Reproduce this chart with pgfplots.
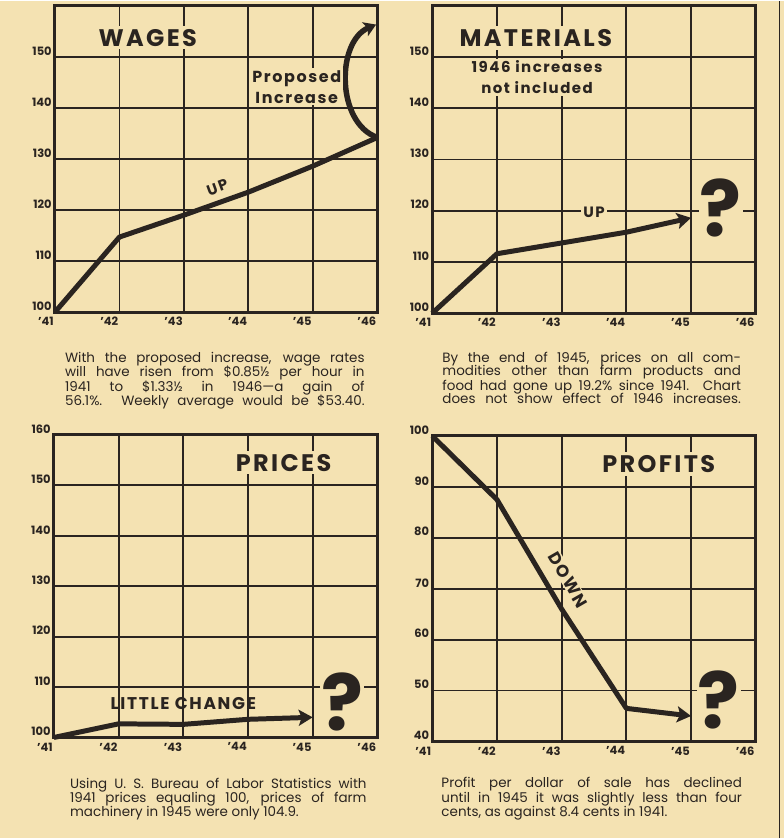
\documentclass[border=0pt]{standalone}
\usepackage{fontspec}
\setmainfont{Poppins}
\usepackage{pgfplots}
\pgfplotsset{compat=1.18}
\usetikzlibrary{arrows.meta}
\definecolor{paper}{RGB}{244,226,178}
\definecolor{ink}{RGB}{42,36,32}
\newcommand{\lbl}[1]{{\addfontfeature{LetterSpace=10}#1}}
% x = years since 1941 (0 = '41 ... 5 = '46)
\pgfplotsset{panel/.style={
  scale only axis, clip=false,
  xmin=0, xmax=5,
  xtick={0,1,2,3,4,5},
  xticklabels={’41,’42,’43,’44,’45,’46},
  grid=major,
  grid style={ink, line width=1.8pt},
  axis line style={ink, line width=3pt},
  major tick length=0pt,
  tick style={draw=none},
  ticklabel style={font=\bfseries\fontsize{11.5}{11.5}\selectfont, text=ink},
  /pgf/number format/assume math mode=true,
  yticklabel style={anchor=south east, inner sep=1pt, xshift=-2pt, yshift=0.5pt},
  xticklabel style={anchor=north east, inner sep=1pt, yshift=-4pt},
  anchor=south west,
}}
\tikzset{
dataline/.style={ink, line width=5pt, line join=round},
arr/.style={-{Stealth[length=14pt, width=16pt, inset=3pt]}},
ttl/.style={fill=paper, inner sep=3pt, text=ink, font=\bfseries\fontsize{24}{24}\selectfont},
bl/.style={fill=paper, inner sep=2pt, text=ink, font=\bfseries\fontsize{15}{15}\selectfont},
qm/.style={fill=paper, inner sep=1pt, text=ink, font=\bfseries\fontsize{78}{78}\selectfont},
}
\newcommand{\capline}[3]{\node[anchor=base west, inner sep=0pt, text=ink, font=\fontsize{13.5}{14}\selectfont] at (#1pt,#2pt) {#3};}
\begin{document}
\begin{tikzpicture}
\fill[paper] (0pt,0pt) rectangle (785pt,839pt);
\draw[ink, line width=1.4pt] (781pt,0pt) -- (781pt,839pt);

% WAGES
\begin{axis}[panel, at={(55pt,527pt)}, width=323pt, height=307pt,
  ymin=100, ymax=160, ytick={100,110,120,130,140,150,160}, yticklabels={100,110,120,130,140,150,}]
\addplot[dataline] coordinates {(0,100) (1,114.7) (2,119) (3,123.5) (4,128.6) (5,134.2)};
\draw[ink, line width=5.5pt, -{Stealth[length=12pt, width=15pt, inset=3pt]}] (axis cs:5,134.2) .. controls (axis cs:4.36,137) and (axis cs:4.36,153) .. (axis cs:4.98,156.3);
\node[ttl] at (axis cs:1.44,153.7) {\lbl{WAGES}};
\node[fill=paper, inner sep=2pt, text=ink, align=center, font=\bfseries\fontsize{16}{21}\selectfont] at (axis cs:3.75,144.1) {\lbl{Proposed}\\\lbl{Increase}};
\node[text=ink, font=\bfseries\fontsize{15}{15}\selectfont, rotate=20] at (axis cs:2.52,124.4) {\lbl{UP}};
\end{axis}

% MATERIALS
\begin{axis}[panel, at={(433pt,526pt)}, width=324pt, height=308pt,
  ymin=100, ymax=160, ytick={100,110,120,130,140,150,160}, yticklabels={100,110,120,130,140,150,}]
\addplot[dataline, arr] coordinates {(0,100) (1,111.6) (2,113.7) (3,115.8) (4,118.6)};
\node[ttl] at (axis cs:1.6,153.7) {\lbl{MATERIALS}};
\node[fill=paper, inner sep=2pt, text=ink, align=center, font=\bfseries\fontsize{15}{21}\selectfont] at (axis cs:1.62,146) {\lbl{1946 increases}\\\lbl{not included}};
\node[bl] at (axis cs:2.5,119.6) {\lbl{UP}};
\node[qm] at (axis cs:4.46,120.5) {?};
\end{axis}

% PRICES
\begin{axis}[panel, at={(54pt,101pt)}, width=324pt, height=303pt,
  ymin=100, ymax=160, ytick={100,110,120,130,140,150,160}]
\addplot[dataline, arr] coordinates {(0,100) (1,102.7) (2,102.6) (3,103.6) (4,104)};
\node[ttl] at (axis cs:3.55,154.5) {\lbl{PRICES}};
\node[text=ink, font=\bfseries\fontsize{17}{17}\selectfont] at (axis cs:2.0,106.8) {\lbl{LITTLE CHANGE}};
\node[qm] at (axis cs:4.46,107.1) {?};
\end{axis}

% PROFITS
\begin{axis}[panel, at={(433pt,97pt)}, width=324pt, height=306pt,
  ymin=40, ymax=100, ytick={40,50,60,70,80,90,100}]
\addplot[dataline, arr] coordinates {(0,100) (1,87.5) (2,66) (3,46.5) (4,45)};
\node[ttl] at (axis cs:3.5,94.5) {\lbl{PROFITS}};
\node[fill=paper, inner sep=1pt, text=ink, font=\bfseries\fontsize{17}{17}\selectfont, rotate=-60] at (axis cs:2.1,71.7) {\lbl{DOWN}};
\node[qm] at (axis cs:4.43,48.2) {?};
\end{axis}

% captions
\capline{65}{477}{\makebox[300pt][s]{With the proposed increase, wage rates}}
\capline{65}{463}{\makebox[300pt][s]{will have risen from \$0.85½ per hour in}}
\capline{65}{448}{\makebox[300pt][s]{1941 to \$1.33½ in 1946—a gain of}}
\capline{65}{434}{\makebox[300pt][s]{56.1\%. Weekly average would be \$53.40.}}

\capline{443}{477}{\makebox[299pt][s]{By the end of 1945, prices on all com-}}
\capline{443}{464}{\makebox[299pt][s]{modities other than farm products and}}
\capline{443}{449}{\makebox[299pt][s]{food had gone up 19.2\% since 1941. Chart}}
\capline{443}{436}{\makebox[299pt][s]{does not show effect of 1946 increases.}}

\capline{70}{50}{\makebox[297pt][s]{Using U. S. Bureau of Labor Statistics with}}
\capline{70}{36}{\makebox[297pt][s]{1941 prices equaling 100, prices of farm}}
\capline{70}{22}{machinery in 1945 were only 104.9.}

\capline{442}{51}{\makebox[301pt][s]{Profit per dollar of sale has declined}}
\capline{442}{36}{\makebox[301pt][s]{until in 1945 it was slightly less than four}}
\capline{442}{22}{cents, as against 8.4 cents in 1941.}
\end{tikzpicture}
\end{document}
